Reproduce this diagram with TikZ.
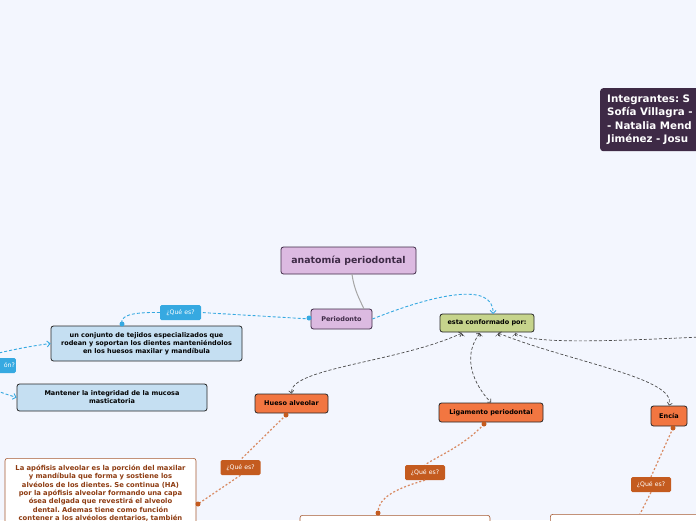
\documentclass[tikz,border=0pt]{standalone}
\usepackage{fontspec}
\setmainfont{DejaVu Sans}
\usetikzlibrary{arrows.meta,positioning}
\frenchspacing

\definecolor{bg}{HTML}{F3F6FE}
\definecolor{lav}{HTML}{DCBAE1}
\definecolor{plum}{HTML}{3E2A46}
\definecolor{olive}{HTML}{C6D48C}
\definecolor{sky}{HTML}{C5DFF2}
\definecolor{qblue}{HTML}{36A9E1}
\definecolor{orng}{HTML}{F27641}
\definecolor{qorng}{HTML}{C45B1F}
\definecolor{dots}{HTML}{D98A62}
\definecolor{brwn}{HTML}{A65A32}
\definecolor{brtxt}{HTML}{8E3C12}

\begin{document}
\begin{tikzpicture}[x=1pt,y=-1pt,
  box/.style={draw=black!85, rounded corners=2.5pt, line width=0.8pt, inner sep=1pt,
    align=center, font=\fontsize{6.5}{8}\selectfont\bfseries},
  topic/.style={box, fill=lav, draw=plum, text=plum},
  conf/.style={box, fill=olive},
  info/.style={box, fill=sky},
  part/.style={box, fill=orng},
  note/.style={box, fill=white, draw=brwn, text=brtxt, line width=0.6pt},
  lbl/.style={rounded corners=1.5pt, inner sep=1pt, text=white,
    font=\fontsize{6.2}{7}\selectfont, minimum height=15pt},
  qb/.style={lbl, fill=qblue},
  qo/.style={lbl, fill=qorng, minimum width=40pt},
  blink/.style={qblue, dashed, dash pattern=on 3pt off 2pt, line width=0.9pt},
  glink/.style={black!70, dash pattern=on 3pt off 2pt, line width=0.7pt, {Straight Barb[length=2.5pt]}-{Straight Barb[length=2.5pt]}},
  olink/.style={dots, dash pattern=on 2pt off 2pt, line width=1.2pt},
  bdot/.style={circle, fill=qblue, inner sep=0pt, minimum size=5pt},
  odot/.style={circle, fill=qorng, inner sep=0pt, minimum size=5pt}]

\useasboundingbox (0,0) rectangle (696,520);
\clip (0,0) rectangle (696,520);
\fill[bg] (0,0) rectangle (696,520);

% main topics
\node[topic, minimum width=135pt, minimum height=27pt, font=\fontsize{9.4}{11}\selectfont\bfseries] (anat) at (348.5,260.5) {anatomía periodontal};
\node[topic, minimum width=61pt, minimum height=20pt] (perio) at (341.5,319) {Periodonto};
\node[conf, minimum width=94pt, minimum height=18pt] (conf) at (487,323) {esta conformado por:};

% what / function
\node[info, minimum width=191pt, minimum height=35pt] (conj) at (146.5,343.5)
  {un conjunto de tejidos especializados que\\rodean y soportan los dientes manteniéndolos\\en los huesos maxilar y mandíbula};
\node[info, minimum width=190pt, minimum height=27pt] (mant) at (112,397.5)
  {Mantener la integridad de la mucosa\\masticatoria};

% parts
\node[part, minimum width=73pt, minimum height=19pt] (hueso) at (291.5,403.5) {Hueso alveolar};
\node[part, minimum width=104pt, minimum height=19pt] (lig) at (491,412.5) {Ligamento periodontal};
\node[part, minimum width=36pt, minimum height=20pt] (encia) at (669,416) {Encía};

% notes
\node[note, anchor=north, minimum width=191pt, minimum height=70pt, text width=188pt,
  font=\fontsize{6.8}{8.35}\selectfont\bfseries] (apof) at (100.5,458)
  {La apófisis alveolar es la porción del maxilar\\y mandíbula que forma y sostiene los\\alvéolos de los dientes. Se continua (HA)\\por la apófisis alveolar formando una capa\\ósea delgada que revestirá el alveolo\\dental. Ademas tiene como función\\contener a los alvéolos dentarios, también};
\node[note, anchor=north, minimum width=190pt, minimum height=40pt] (ligtxt) at (395,515) {};
\node[note, anchor=north west, minimum width=200pt, minimum height=40pt] (enctxt) at (550,514) {};

% team
\node[fill=plum, rounded corners=3pt, anchor=north west, text=white, align=left,
  inner sep=0pt, minimum height=63pt, text width=150pt,
  font=\fontsize{10.3}{13.3}\selectfont\bfseries] (team) at (600,88)
  {\hspace*{7pt}Integrantes: S\\\hspace*{7pt}Sofía Villagra -\\\hspace*{7pt}- Natalia Mend\\\hspace*{7pt}Jiménez - Josu};

% connectors
\draw[black!35, line width=1pt] (352,274) .. controls (354,290) and (360,300) .. (364,309);
\draw[blink, -{Straight Barb[length=3pt]}] (perio.east) .. controls (430,296) and (494,280) .. (493,314);

\node[qb, minimum width=41pt] (q1) at (180.5,312.5) {¿Qué es?};
\draw[blink] (perio.west) -- (q1.east);
\draw[blink] (q1.west) .. controls (130,312) and (120,316) .. (122,324);
\node[bdot] at (309,318) {};
\node[bdot] at (122,324) {};

\coordinate (fnA) at (-20,358);
\coordinate (fnB) at (-20,372);
\draw[blink, -{Straight Barb[length=3pt]}] (fnA) .. controls (0,352) and (30,346) .. (conj.west);
\draw[blink, -{Straight Barb[length=3pt]}] (fnB) .. controls (-10,389) .. (mant.west);
\node[qb, anchor=east, text width=36pt, align=right] (fn) at (16,365.5) {ón?};

\coordinate (offr) at (720,336);
\draw[glink] (462,333) .. controls (400,362) and (289,368) .. (hueso.north);
\draw[glink] (480,333) .. controls (465,352) and (468,378) .. (lig.north);
\draw[glink] (498,333) .. controls (570,362) and (677,378) .. (encia.north);
\draw[glink, -] (515,333) .. controls (530,344) and (600,342) .. (offr);
\foreach \x in {462,480,498,515}
  \draw[black!70, -{Straight Barb[length=2.5pt]}] (\x,336) -- (\x,333.5);

\node[qo] (q2) at (240.5,467.5) {¿Qué es?};
\draw[olink] (286,415) -- (q2.north);
\draw[olink] (q2.south) -- (198,504);
\node[odot] at (286,415) {};
\node[odot] at (198,504) {};

\node[qo] (q3) at (425,472.5) {¿Qué es?};
\draw[olink] (484,424) .. controls (465,445) and (440,455) .. (q3.north);
\draw[olink] (q3.south) .. controls (390,490) and (378,500) .. (378,513);
\node[odot] at (484,424) {};
\node[odot] at (378,513) {};

\node[qo] (q4) at (651,484.5) {¿Qué es?};
\draw[olink] (673,428) -- (q4.north);
\draw[olink] (q4.south) -- (640,514);
\node[odot] at (673,428) {};

\end{tikzpicture}
\end{document}
